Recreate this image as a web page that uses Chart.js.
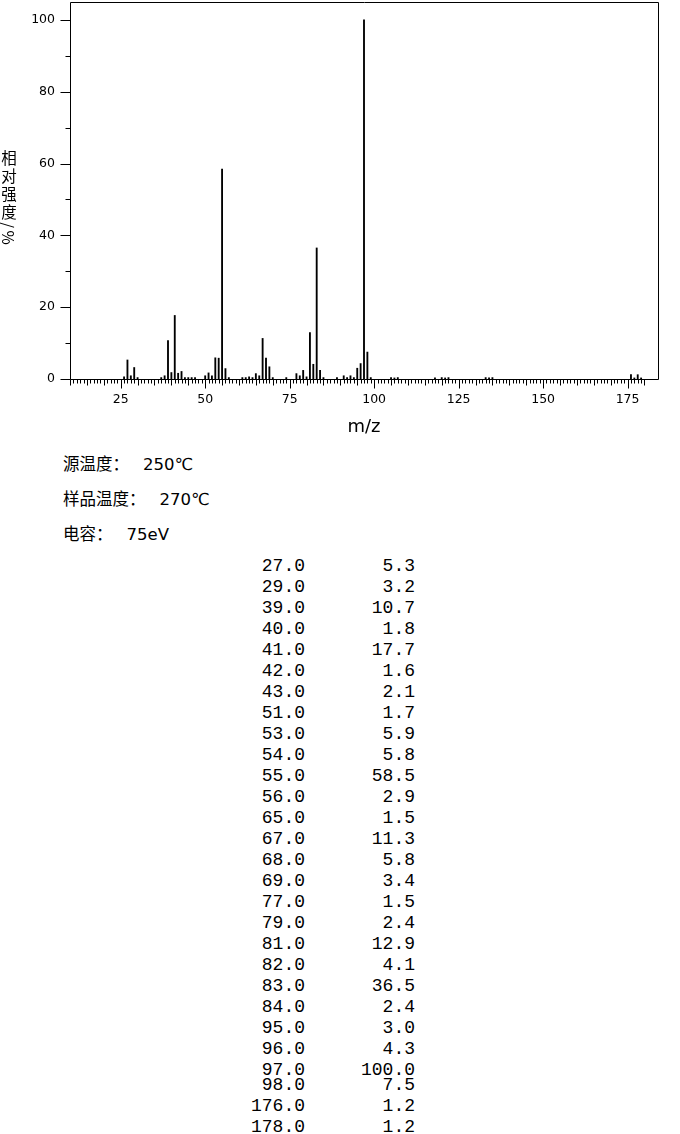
<!DOCTYPE html>
<html>
<head>
<meta charset="utf-8">
<script src="https://cdn.jsdelivr.net/npm/chart.js@4.4.0/dist/chart.umd.min.js"></script>
<style>
  body { margin: 0; background: #fff; width: 680px; height: 1134px; position: relative; overflow: hidden; color: #000; }
  #wrap { position: absolute; left: 0; top: 0; width: 680px; height: 440px; }
  #ytitle { position: absolute; left: 0px; top: 150px; writing-mode: vertical-rl; font: 15.5px "Noto Sans CJK SC"; letter-spacing: 2.5px; line-height: 18px; }
  .info { position: absolute; left: 63px; font: 16.5px "DejaVu Sans", "Noto Sans CJK SC", sans-serif; line-height: 20px; white-space: nowrap; }
  .info .v { margin-left: 14px; }
  #peaks { position: absolute; top: 556px; left: 0; width: 680px; font: 18px "Liberation Mono", monospace; }
  .row { height: 21px; line-height: 21px; position: relative; }
  .row span { position: absolute; left: 0; text-align: right; }
  .row .m { width: 305px; }
  .row .i { width: 415px; }
</style>
</head>
<body>
<div id="wrap"><canvas id="msChart"></canvas></div>
<div id="ytitle">相对强度/%</div>
<div class="info" style="top:455px">源温度：<span class="v">250℃</span></div>
<div class="info" style="top:490px">样品温度：<span class="v">270℃</span></div>
<div class="info" style="top:525px">电容：<span class="v">75eV</span></div>
<div id="peaks"></div>
<script>
// peaks (small ones estimated from the plot)
const mz = [26, 27, 28, 29, 30, 37, 38, 39, 40, 41, 42, 43, 44, 45, 46, 47,
  50, 51, 52, 53, 54, 55, 56, 57, 61, 62, 63, 64, 65, 66, 67, 68, 69, 70, 74,
  77, 78, 79, 80, 81, 82, 83, 84, 85, 89, 91, 92, 93, 94, 95, 96, 97, 98, 99,
  105, 106, 107, 118, 120, 121, 122, 133, 134, 135, 176, 177, 178, 179];
const intensity = [0.6, 5.3, 0.9, 3.2, 0.4, 0.4, 0.9, 10.7, 1.8, 17.7, 1.6, 2.1, 0.4, 0.4, 0.4, 0.4,
  0.9, 1.7, 0.9, 5.9, 5.8, 58.5, 2.9, 0.4, 0.4, 0.4, 0.6, 0.4, 1.5, 0.9, 11.3, 5.8, 3.4, 0.4, 0.4,
  1.5, 0.9, 2.4, 0.6, 12.9, 4.1, 36.5, 2.4, 0.4, 0.4, 0.9, 0.4, 0.9, 0.4, 3.0, 4.3, 100.0, 7.5, 0.4,
  0.4, 0.3, 0.4, 0.3, 0.4, 0.3, 0.4, 0.4, 0.3, 0.4, 1.2, 0.3, 1.2, 0.3];
const xTickLabels = [25, 50, 75, 100, 125, 150, 175];
const yTickLabels = [0, 20, 40, 60, 80, 100];

// listed peaks table (>= 1%)
const peaksDiv = document.getElementById("peaks");
mz.forEach((m, i) => {
  if (intensity[i] < 1) return;
  const row = document.createElement("div");
  row.className = "row";
  if (m === 98) row.style.marginTop = "-6px";
  row.innerHTML = `<span class="m">${m.toFixed(1)}</span><span class="i">${intensity[i].toFixed(1)}</span>`;
  peaksDiv.appendChild(row);
});

const frameTicks = {
  id: "frameTicks",
  afterDraw(chart) {
    const { ctx, chartArea: a, scales: { x, y } } = chart;
    const snap = (v) => Math.round(v) + 0.5;
    const left = snap(a.left), right = snap(a.right), top = snap(a.top), bottom = snap(a.bottom);
    ctx.save();
    ctx.strokeStyle = "#000";
    ctx.lineWidth = 1;
    ctx.beginPath();
    ctx.rect(left, top, right - left, bottom - top);
    for (let v = 0; v <= 100; v += 10) {
      const py = snap(y.getPixelForValue(v));
      const len = v % 20 === 0 ? 10 : 5;
      ctx.moveTo(left - len, py);
      ctx.lineTo(left, py);
    }
    for (let m = 10; m <= 180; m++) {
      const px = snap(x.getPixelForValue(m));
      const len = m % 25 === 0 ? 9 : m % 5 === 0 ? 6 : 4;
      ctx.moveTo(px, bottom);
      ctx.lineTo(px, bottom + len);
    }
    ctx.stroke();
    ctx.restore();
  },
};

const ctx = document.getElementById("msChart").getContext("2d");
const msChart = new Chart(ctx, {
  type: "bar",
  data: {
    datasets: [
      {
        data: mz.map((m, i) => ({ x: m, y: intensity[i] })),
        backgroundColor: "#000",
        borderWidth: 0,
        barThickness: 1.2,
      },
    ],
  },
  options: {
    responsive: true,
    maintainAspectRatio: false,
    animation: false,
    layout: { padding: { left: 0, right: 22, top: 2, bottom: 0 } },
    scales: {
      x: {
        type: "linear",
        min: 10,
        max: 184,
        offset: false,
        grid: { display: false, drawTicks: false },
        border: { display: false },
        afterBuildTicks: (s) => { s.ticks = xTickLabels.map((v) => ({ value: v })); },
        afterFit: (s) => { s.height = 61; s.paddingLeft = 0; s.paddingRight = 0; },
        ticks: {
          padding: 13,
          maxRotation: 0,
          color: "#000",
          font: { family: "DejaVu Sans", size: 12.5 },
        },
        title: {
          display: true,
          text: "m/z",
          color: "#000",
          font: { family: "DejaVu Sans", size: 18 },
          padding: { top: 0, bottom: 2 },
        },
      },
      y: {
        min: 0,
        max: 105,
        grid: { display: false, drawTicks: false },
        border: { display: false },
        afterBuildTicks: (s) => { s.ticks = yTickLabels.map((v) => ({ value: v })); },
        afterFit: (s) => { s.width = 70; s.paddingTop = 0; s.paddingBottom = 0; },
        ticks: {
          padding: 15,
          color: "#000",
          font: { family: "DejaVu Sans", size: 12.5 },
        },
      },
    },
    plugins: {
      legend: { display: false },
      tooltip: { enabled: false },
    },
  },
  plugins: [frameTicks],
});
</script>
</body>
</html>
